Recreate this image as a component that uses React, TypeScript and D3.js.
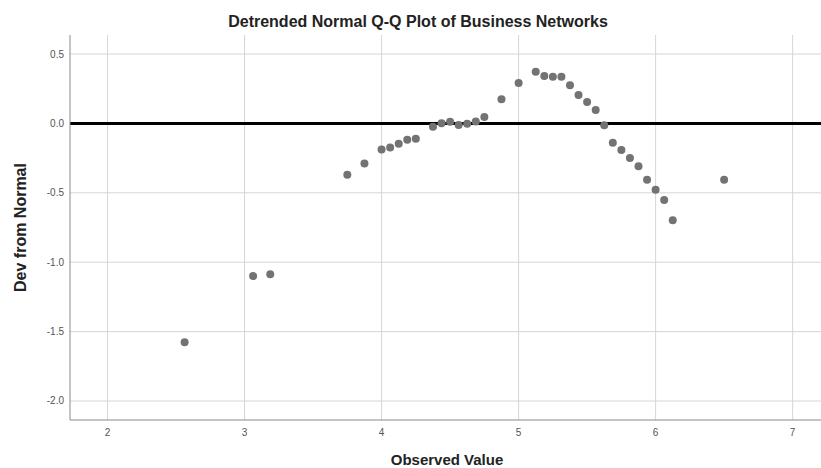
import React from "react";
import * as d3 from "d3";

const observed: number[] = [
  2.5625, 3.0625, 3.1875, 3.75, 3.875, 4.0, 4.0625, 4.125, 4.1875, 4.25,
  4.375, 4.4375, 4.5, 4.5625, 4.625, 4.6875, 4.75, 4.875, 5.0, 5.125,
  5.1875, 5.25, 5.3125, 5.375, 5.4375, 5.5, 5.5625, 5.625, 5.6875, 5.75,
  5.8125, 5.875, 5.9375, 6.0, 6.0625, 6.125, 6.5,
];
const deviation: number[] = [
  -1.577, -1.1, -1.087, -0.37, -0.288, -0.188, -0.174, -0.147, -0.118, -0.111,
  -0.024, 0.002, 0.012, -0.012, -0.002, 0.014, 0.046, 0.174, 0.292, 0.372,
  0.341, 0.336, 0.336, 0.275, 0.205, 0.154, 0.096, -0.014, -0.14, -0.191,
  -0.249, -0.309, -0.406, -0.478, -0.551, -0.698, -0.406,
];
const xTicks: number[] = [2, 3, 4, 5, 6, 7];
const yTicks: number[] = [0.5, 0.0, -0.5, -1.0, -1.5, -2.0];

const W = 821;
const H = 468;
const left = 70;
const right = 821;
const top = 35;
const bottom = 420;

export default function App() {
  const x = d3.scaleLinear().domain([1.726, 7.207]).range([left, right]);
  const y = d3.scaleLinear().domain([0.637, -2.137]).range([top, bottom]);
  const font = "'Liberation Sans', Arial, sans-serif";
  return (
    <svg
      width={W}
      height={H}
      style={{ position: "absolute", left: 0, top: 0, background: "#fff" }}
    >
      <rect x={0} y={0} width={W} height={H} fill="#fff" />
      {yTicks.map((t) => (
        <line key={"gy" + t} x1={left} x2={right} y1={y(t)} y2={y(t)} stroke="#d6d6d6" strokeWidth={1} />
      ))}
      {xTicks.map((t) => (
        <line key={"gx" + t} x1={x(t)} x2={x(t)} y1={top} y2={bottom} stroke="#d6d6d6" strokeWidth={1} />
      ))}
      <line x1={left} x2={right} y1={y(0)} y2={y(0)} stroke="#000" strokeWidth={3} />
      <line x1={left} x2={left} y1={top} y2={bottom} stroke="#8a8a8a" strokeWidth={1} />
      <line x1={left} x2={right} y1={bottom} y2={bottom} stroke="#8a8a8a" strokeWidth={1} />
      {yTicks.map((t) => (
        <text key={"ty" + t} x={left - 6} y={y(t)} dy="0.35em" textAnchor="end" fontFamily={font} fontSize={10} fill="#555">
          {d3.format(".1f")(t).replace("−", "-")}
        </text>
      ))}
      {xTicks.map((t) => (
        <text key={"tx" + t} x={x(t)} y={bottom + 16} textAnchor="middle" fontFamily={font} fontSize={10} fill="#555">
          {t}
        </text>
      ))}
      {observed.map((v, i) => (
        <circle key={"p" + i} cx={x(v)} cy={y(deviation[i])} r={4} fill="#737373" />
      ))}
      <text x={418} y={27} textAnchor="middle" fontFamily={font} fontWeight="bold" fontSize={16} fill="#222">
        Detrended Normal Q-Q Plot of Business Networks
      </text>
      <text x={447} y={465} textAnchor="middle" fontFamily={font} fontWeight="bold" fontSize={15} fill="#222">
        Observed Value
      </text>
      <text
        transform={`translate(26,${(top + bottom) / 2}) rotate(-90)`}
        textAnchor="middle"
        fontFamily={font}
        fontWeight="bold"
        fontSize={16}
        fill="#222"
      >
        Dev from Normal
      </text>
    </svg>
  );
}
